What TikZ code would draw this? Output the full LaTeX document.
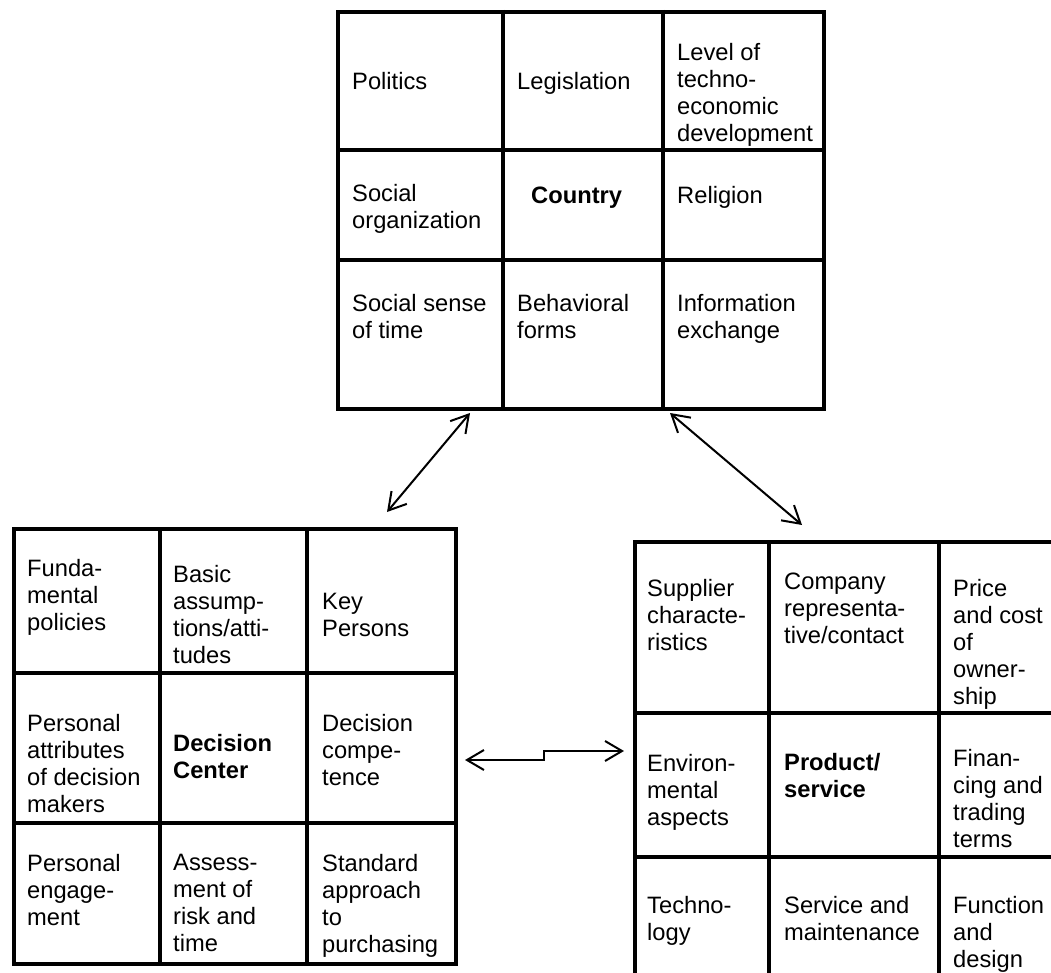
\documentclass[tikz,border=0pt]{standalone}
\usepackage{fontspec}
\setmainfont{Liberation Sans}
\usetikzlibrary{arrows.meta}
\newcommand\cellfont{\fontsize{23.7}{27}\selectfont}
\tikzset{
  cell/.style={anchor=north west, align=left, inner sep=0pt, font=\cellfont, yshift=18.9pt, execute at begin node=\strut},
  gridbox/.style={draw, line width=4pt, anchor=north west, inner sep=0pt},
  gridline/.style={line width=4pt},
  link/.style={line width=2pt, {Straight Barb[length=17pt,width=20pt]}-{Straight Barb[length=17pt,width=20pt]}},
}
\begin{document}
\begin{tikzpicture}[x=1pt,y=-1pt]
\useasboundingbox (0,0) rectangle (1051,973);
\clip (0,0) rectangle (1051,973);
% ---------- top grid: Country ----------
\node[gridbox, minimum width=486pt, minimum height=397pt] (country) at (336,10) {};
\draw[gridline] (503,10) -- (503,407) (663,10) -- (663,407) (336,150) -- (822,150) (336,260) -- (822,260);
\node[cell] (c11) at (352,89) {Politics};
\node[cell] (c12) at (517,89) {Legislation};
\node[cell] (c13) at (677,62) {Level of\\techno-\\economic\\development};
\node[cell] (c21) at (352,203) {Social\\organization};
\node[cell] (c22) at (531,203) {\textbf{Country}};
\node[cell] (c23) at (677,203) {Religion};
\node[cell] (c31) at (352,313) {Social sense\\of time};
\node[cell] (c32) at (517,313) {Behavioral\\forms};
\node[cell] (c33) at (677,313) {Information\\exchange};
% ---------- left grid: Decision Center ----------
\node[gridbox, minimum width=442pt, minimum height=435pt] (decision) at (12,527) {};
\draw[gridline] (160,527) -- (160,962) (307,527) -- (307,962) (12,673) -- (454,673) (12,823) -- (454,823);
\node[cell] (d11) at (27,578) {Funda-\\mental\\policies};
\node[cell] (d12) at (173,584) {Basic\\assump-\\tions/atti-\\tudes};
\node[cell] (d13) at (322,612) {Key\\Persons};
\node[cell] (d21) at (27,733) {Personal\\attributes\\of decision\\makers};
\node[cell] (d22) at (173,753) {\textbf{Decision}\\\textbf{Center}};
\node[cell] (d23) at (322,733) {Decision\\compe-\\tence};
\node[cell] (d31) at (27,873) {Personal\\engage-\\ment};
\node[cell] (d32) at (173,873) {Assess-\\ment of\\risk and\\time};
\node[cell] (d33) at (322,873) {Standard\\approach\\to\\purchasing};
% ---------- right grid: Product/service ----------
\node[gridbox, minimum width=477pt, minimum height=470pt] (product) at (633,540) {};
\draw[gridline] (769,540) -- (769,1010) (939,540) -- (939,1010) (633,713) -- (1110,713) (633,857) -- (1110,857);
\node[cell] (p11) at (647,598) {Supplier\\characte-\\ristics};
\node[cell] (p12) at (784,592) {Company\\representa-\\tive/contact};
\node[cell] (p13) at (953,598) {Price\\and cost\\of\\owner-\\ship};
\node[cell] (p21) at (647,773) {Environ-\\mental\\aspects};
\node[cell] (p22) at (784,772) {\textbf{Product/}\\\textbf{service}};
\node[cell] (p23) at (953,768) {Finan-\\cing and\\trading\\terms};
\node[cell] (p31) at (647,915) {Techno-\\logy};
\node[cell] (p32) at (784,915) {Service and\\maintenance};
\node[cell] (p33) at (953,915) {Function\\and\\design};
% ---------- connectors ----------
\coordinate (aDec) at (387,512);
\coordinate (aCtyL) at (470,413);
\coordinate (aCtyR) at (670,413);
\coordinate (aProdT) at (802,525);
\coordinate (aDecR) at (465,760);
\coordinate (bend1) at (544,760);
\coordinate (bend2) at (544,751);
\coordinate (aProdL) at (624,751);
\draw[link] (aDec) -- (aCtyL);
\draw[link] (aCtyR) -- (aProdT);
\draw[link] (aDecR) -- (bend1) -- (bend2) -- (aProdL);
\end{tikzpicture}
\end{document}
